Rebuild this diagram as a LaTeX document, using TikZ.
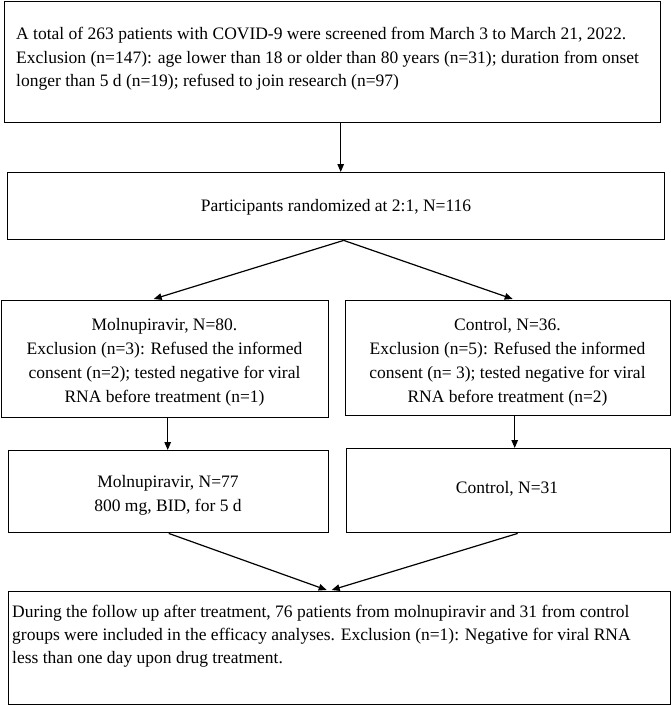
\documentclass[tikz,border=0pt]{standalone}
\usepackage{fontspec}
\setmainfont{Liberation Serif}
\usetikzlibrary{arrows.meta}
\begin{document}
\begin{tikzpicture}[x=1pt,y=-1pt,
  boxs/.style={draw=black,line width=1.4pt,inner sep=0pt,anchor=north west},
  txt/.style={inner sep=0pt,font=\fontsize{17.5}{23.5}\selectfont},
  conn/.style={draw=black,line width=1.2pt,-{Triangle[length=8pt,width=6.5pt]}}]
\useasboundingbox (0,0) rectangle (671,706);
\fill[white] (0,0) rectangle (671,706);
% boxes
\node[boxs,minimum width=656pt,minimum height=121pt] (b1) at (4,1) {};
\node[boxs,minimum width=657pt,minimum height=67pt] (b2) at (7,172) {};
\node[boxs,minimum width=327pt,minimum height=117pt] (b3l) at (1,300) {};
\node[boxs,minimum width=325pt,minimum height=115pt] (b3r) at (345,300) {};
\node[boxs,minimum width=320pt,minimum height=82pt] (b4l) at (8,450) {};
\node[boxs,minimum width=324pt,minimum height=84pt] (b4r) at (346,448) {};
\node[boxs,minimum width=662pt,minimum height=113pt] (b5) at (8,591) {};
% texts
\node[txt,anchor=base west] (t1a) at (16,40) {A total of 263 patients with COVID-9 were screened from March 3 to March 21, 2022.};
\node[txt,anchor=base west] (t1b) at (16,64) {Exclusion (n=147): age lower than 18 or older than 80 years (n=31); duration from onset};
\node[txt,anchor=base west] (t1c) at (16,87) {longer than 5 d (n=19); refused to join research (n=97)};
\node[txt,anchor=base] (t2) at (336,211) {Participants randomized at 2:1, N=116};
\node[txt,anchor=base] (t3a) at (164.5,330) {Molnupiravir, N=80.};
\node[txt,anchor=base] (t3b) at (164.5,354) {Exclusion (n=3): Refused the informed};
\node[txt,anchor=base] (t3c) at (164.5,378) {consent (n=2); tested negative for viral};
\node[txt,anchor=base] (t3d) at (164.5,402) {RNA before treatment (n=1)};
\node[txt,anchor=base] (t4a) at (507.5,330) {Control, N=36.};
\node[txt,anchor=base] (t4b) at (507.5,354) {Exclusion (n=5): Refused the informed};
\node[txt,anchor=base] (t4c) at (507.5,378) {consent (n= 3); tested negative for viral};
\node[txt,anchor=base] (t4d) at (507.5,402) {RNA before treatment (n=2)};
\node[txt,anchor=base] (t5a) at (168,487) {Molnupiravir, N=77};
\node[txt,anchor=base] (t5b) at (168,511) {800 mg, BID, for 5 d};
\node[txt,anchor=base] (t6) at (507,493) {Control, N=31};
\node[txt,anchor=base west] (t7a) at (12,617) {During the follow up after treatment, 76 patients from molnupiravir and 31 from control};
\node[txt,anchor=base west] (t7b) at (12,640) {groups were included in the efficacy analyses. Exclusion (n=1): Negative for viral RNA};
\node[txt,anchor=base west] (t7c) at (12,663) {less than one day upon drug treatment.};
% connectors
\draw[conn] ([xshift=8pt]b1.south) -- ([xshift=4.5pt]b2.north);
\draw[conn] ([xshift=7.5pt]b2.south) -- ([xshift=-11.5pt,yshift=1pt]b3l.north);
\draw[conn] ([xshift=7.5pt]b2.south) -- ([xshift=4.5pt,yshift=1pt]b3r.north);
\draw[conn] ([xshift=2.5pt]b3l.south) -- ([xshift=-1pt]b4l.north);
\draw[conn] ([xshift=6.5pt]b3r.south) -- ([xshift=6pt]b4r.north);
\draw[conn] (b4l.south) -- ([xshift=-13pt,yshift=1pt]b5.north);
\draw[conn] ([xshift=9pt]b4r.south) -- ([xshift=-8pt,yshift=1pt]b5.north);
\end{tikzpicture}
\end{document}
